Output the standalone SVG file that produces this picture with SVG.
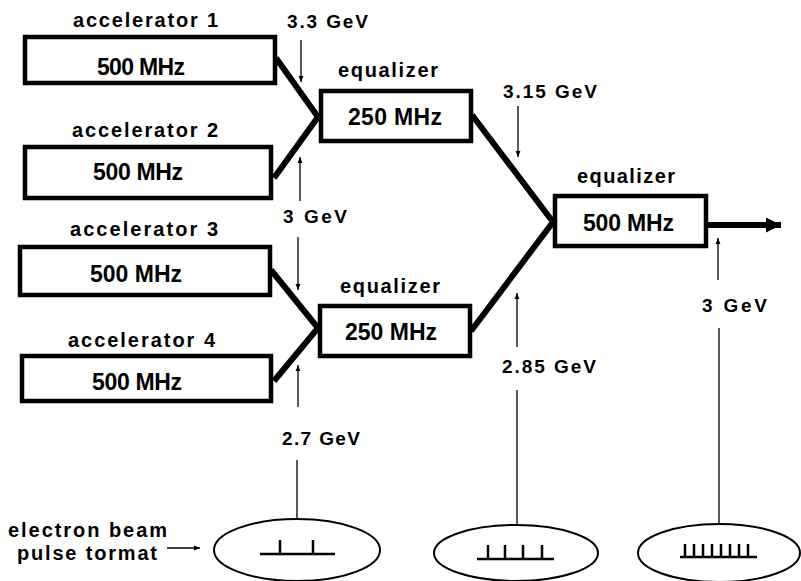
<svg xmlns="http://www.w3.org/2000/svg" width="801" height="581" viewBox="0 0 801 581">
<style>
.box{fill:#fff;stroke:#000;stroke-width:4.5}
.thick{fill:none;stroke:#000;stroke-width:6;stroke-linecap:butt}
.thin{fill:none;stroke:#000;stroke-width:1.3}
.ell{fill:#fff;stroke:#000;stroke-width:2}
.pulse{fill:none;stroke:#000;stroke-width:2.5}
text{font-family:"Liberation Sans",Arial,sans-serif;font-weight:bold;fill:#000}
.lbl{font-size:20px}
.big{font-size:23px}
.en{font-size:19px}
</style>
<defs>
<marker id="ah" viewBox="0 0 10 10" refX="10" refY="5" markerWidth="6" markerHeight="8" markerUnits="userSpaceOnUse" orient="auto">
<path d="M0,1 L10,5 L0,9 z" fill="#000"/>
</marker>
<marker id="bh" viewBox="0 0 10 10" refX="10" refY="5" markerWidth="15" markerHeight="16" markerUnits="userSpaceOnUse" orient="auto">
<path d="M0,0 L10,5 L0,10 z" fill="#000"/>
</marker>
</defs>
<rect width="801" height="581" fill="#fff"/>
<g id="connectors">
<polyline class="thick" points="276,58 318,117 274,178"/>
<polyline class="thick" points="271,270 318,328 274,381"/>
<polyline class="thick" points="472,115 553,222 471,331"/>
<line class="thick" x1="707" y1="225" x2="781" y2="225" stroke-width="4.5" marker-end="url(#bh)"/>
<line class="thin" x1="301" y1="40" x2="301" y2="82" marker-end="url(#ah)"/>
<line class="thin" x1="300" y1="201" x2="300" y2="157" marker-end="url(#ah)"/>
<line class="thin" x1="298" y1="237" x2="298" y2="290" marker-end="url(#ah)"/>
<line class="thin" x1="518" y1="106" x2="518" y2="157" marker-end="url(#ah)"/>
<line class="thin" x1="517" y1="347" x2="517" y2="293" marker-end="url(#ah)"/>
<line class="thin" x1="517" y1="390" x2="517" y2="525"/>
<line class="thin" x1="718" y1="280" x2="718" y2="238" marker-end="url(#ah)"/>
<line class="thin" x1="719" y1="328" x2="719" y2="524"/>
<line class="thin" x1="298" y1="407" x2="298" y2="365" marker-end="url(#ah)"/>
<line class="thin" x1="297" y1="460" x2="297" y2="520"/>
<line class="thin" x1="167" y1="548" x2="200" y2="548" stroke-width="2" marker-end="url(#ah)"/>
</g>
<g id="acc1">
<text class="lbl" x="73" y="27" textLength="145" lengthAdjust="spacing">accelerator 1</text>
<rect class="box" x="25" y="37" width="250" height="46"/>
<text class="big" x="97" y="75" textLength="88" lengthAdjust="spacing">500 MHz</text>
</g>
<g id="acc2">
<text class="lbl" x="72" y="137" textLength="146" lengthAdjust="spacing">accelerator 2</text>
<rect class="box" x="25" y="147" width="246" height="51"/>
<text class="big" x="93" y="180" textLength="90" lengthAdjust="spacing">500 MHz</text>
</g>
<g id="acc3">
<text class="lbl" x="70" y="236" textLength="148" lengthAdjust="spacing">accelerator 3</text>
<rect class="box" x="20" y="247" width="250" height="48"/>
<text class="big" x="90" y="282" textLength="92" lengthAdjust="spacing">500 MHz</text>
</g>
<g id="acc4">
<text class="lbl" x="68" y="347" textLength="147" lengthAdjust="spacing">accelerator 4</text>
<rect class="box" x="22" y="356" width="249" height="45"/>
<text class="big" x="92" y="390" textLength="90" lengthAdjust="spacing">500 MHz</text>
</g>
<g id="eq1">
<text class="lbl" x="338" y="77" textLength="100" lengthAdjust="spacing">equalizer</text>
<rect class="box" x="321" y="91" width="150" height="50"/>
<text class="big" x="348" y="125" textLength="94" lengthAdjust="spacing">250 MHz</text>
</g>
<g id="eq2">
<text class="lbl" x="340" y="293" textLength="100" lengthAdjust="spacing">equalizer</text>
<rect class="box" x="320" y="306" width="150" height="50"/>
<text class="big" x="345" y="340" textLength="92" lengthAdjust="spacing">250 MHz</text>
</g>
<g id="eq3">
<text class="lbl" x="577" y="183" textLength="98" lengthAdjust="spacing">equalizer</text>
<rect class="box" x="555" y="196" width="151" height="50"/>
<text class="big" x="583" y="231" textLength="91" lengthAdjust="spacing">500 MHz</text>
</g>
<g id="energies">
<text class="en" x="287" y="28" textLength="81" lengthAdjust="spacing">3.3 GeV</text>
<text class="en" x="283" y="223" textLength="64" lengthAdjust="spacing">3 GeV</text>
<text class="en" x="503" y="98" textLength="94" lengthAdjust="spacing">3.15 GeV</text>
<text class="en" x="502" y="373" textLength="94" lengthAdjust="spacing">2.85 GeV</text>
<text class="en" x="702" y="312" textLength="65" lengthAdjust="spacing">3 GeV</text>
<text class="en" x="282" y="445" textLength="78" lengthAdjust="spacing">2.7 GeV</text>
</g>
<g id="pulse-label">
<text class="lbl" x="8" y="537" textLength="159" lengthAdjust="spacing">electron beam</text>
<text class="lbl" x="17" y="560" textLength="140" lengthAdjust="spacing">pulse tormat</text>
</g>
<g id="pulse1">
<ellipse class="ell" cx="297" cy="550" rx="83" ry="31"/>
<path class="pulse" d="M260,554 H335 M280,554 V540 M313,554 V540"/>
</g>
<g id="pulse2">
<ellipse class="ell" cx="516" cy="553" rx="82" ry="28"/>
<path class="pulse" d="M477,559 H554 M488,559 V545 M505,559 V545 M523,559 V545 M542,559 V545"/>
</g>
<g id="pulse3">
<ellipse class="ell" cx="719" cy="553" rx="81" ry="29"/>
<path class="pulse" d="M680,557 H757 M685,557 V544 M694,557 V544 M703,557 V544 M712,557 V544 M721,557 V544 M730,557 V544 M739,557 V544 M748,557 V544"/>
</g>
</svg>
